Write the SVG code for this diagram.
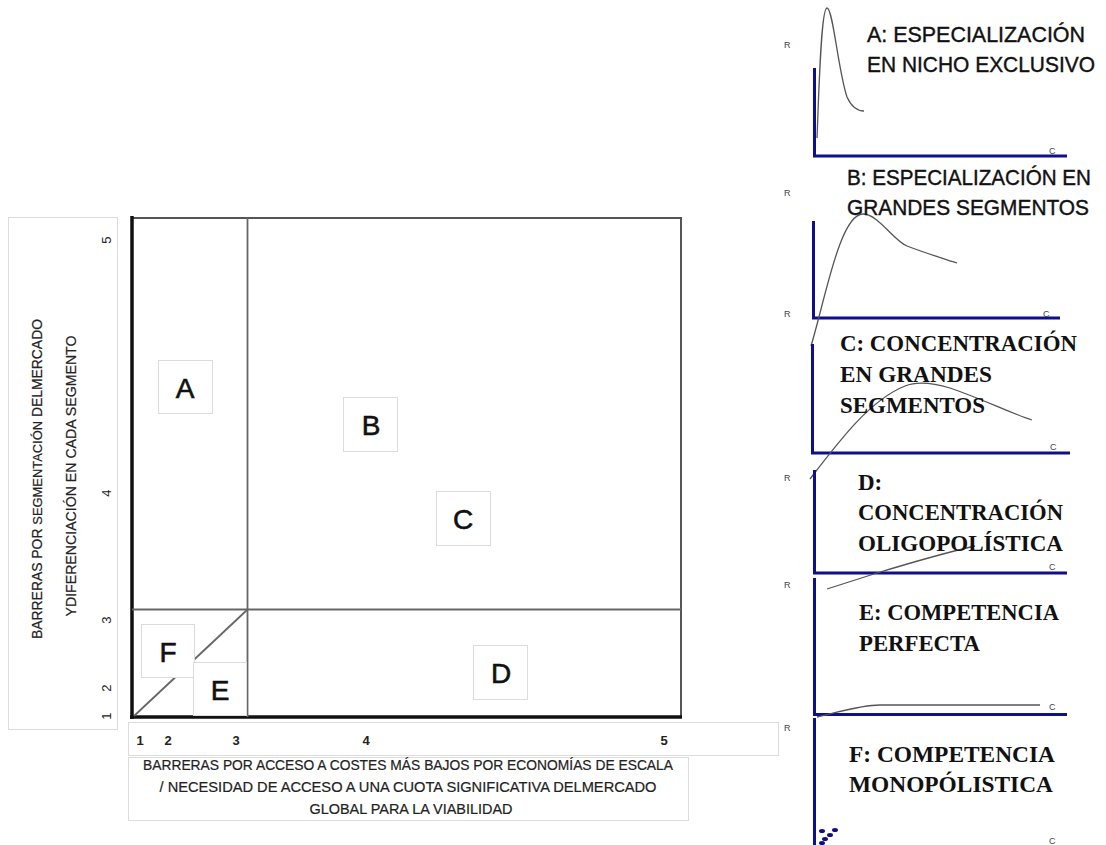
<svg xmlns="http://www.w3.org/2000/svg" width="1106" height="845" viewBox="0 0 1106 845">
<style>
.bg{fill:#fff}
.lbox{fill:#fff;stroke:#dcdcdc;stroke-width:1}
.frame{fill:none;stroke:#555;stroke-width:2}
.thick{stroke:#111;stroke-width:3.5;fill:none}
.div{stroke:#666;stroke-width:1.8;fill:none}
.big{font-family:"Liberation Sans",Arial,sans-serif;font-size:28px;fill:#111;stroke:#111;stroke-width:0.6;text-anchor:middle}
.ax{font-family:"Liberation Sans",Arial,sans-serif;font-size:14px;fill:#222;stroke:#222;stroke-width:0.2}
.num{font-family:"Liberation Sans",Arial,sans-serif;font-size:13px;fill:#222;text-anchor:middle}
.numb{font-family:"Liberation Sans",Arial,sans-serif;font-size:13px;font-weight:bold;fill:#222;text-anchor:middle}
.ts{font-family:"Liberation Sans",Arial,sans-serif;font-size:22px;fill:#111;stroke:#111;stroke-width:0.4}
.tr{font-family:"Liberation Serif","Times New Roman",serif;font-size:23px;font-weight:bold;fill:#111}
.small{font-family:"Liberation Sans",Arial,sans-serif;font-size:9px;fill:#444}
.blue{stroke:#0f0f8a;stroke-width:3;fill:none}
.curve{stroke:#555;stroke-width:1.3;fill:none}
</style>
<rect class="bg" x="0" y="0" width="1106" height="845"/>

<g id="y-axis-label">
  <rect class="lbox" x="8.5" y="217.5" width="109" height="512"/>
  <text class="ax" transform="rotate(-90 42 479)" x="42" y="479" text-anchor="middle" font-size="15" textLength="320" lengthAdjust="spacingAndGlyphs">BARRERAS POR <tspan font-size="13">SEGMENTACIÓN</tspan>  DELMERCADO</text>
  <text class="ax" transform="rotate(-90 76 476)" x="76" y="476" text-anchor="middle" font-size="15" textLength="281" lengthAdjust="spacingAndGlyphs">YDIFERENCIACIÓN EN CADA SEGMENTO</text>
  <text class="num" transform="rotate(-90 111 240)" x="111" y="240">5</text>
  <text class="num" transform="rotate(-90 111 493)" x="111" y="493">4</text>
  <text class="num" transform="rotate(-90 111 620)" x="111" y="620">3</text>
  <text class="num" transform="rotate(-90 111 688)" x="111" y="688">2</text>
  <text class="num" transform="rotate(-90 111 716)" x="111" y="716">1</text>
</g>

<g id="x-axis-numbers">
  <rect class="lbox" x="128.5" y="722.5" width="650" height="33"/>
  <text class="numb" x="140" y="745">1</text>
  <text class="numb" x="168" y="745">2</text>
  <text class="numb" x="236" y="745">3</text>
  <text class="numb" x="366" y="745">4</text>
  <text class="numb" x="664" y="745">5</text>
</g>

<g id="x-axis-label">
  <rect class="lbox" x="128.5" y="757.5" width="560" height="63"/>
  <text class="ax" x="408" y="770" text-anchor="middle" textLength="530" lengthAdjust="spacingAndGlyphs">BARRERAS POR ACCESO A COSTES MÁS BAJOS POR  ECONOMÍAS DE ESCALA</text>
  <text class="ax" x="408" y="792" text-anchor="middle" textLength="497" lengthAdjust="spacingAndGlyphs">/ NECESIDAD DE ACCESO A UNA CUOTA SIGNIFICATIVA DELMERCADO</text>
  <text class="ax" x="411" y="814" text-anchor="middle" textLength="203" lengthAdjust="spacingAndGlyphs">GLOBAL PARA LA VIABILIDAD</text>
</g>

<g id="chart-frame">
  <rect class="frame" x="132" y="218" width="549" height="499"/>
  <line class="thick" x1="132" y1="216" x2="132" y2="719"/>
  <line class="thick" x1="130" y1="717" x2="682" y2="717"/>
</g>

<g id="connectors">
  <line class="div" x1="247.5" y1="218" x2="247.5" y2="717"/>
  <line class="div" x1="132" y1="609.5" x2="681" y2="609.5"/>
  <line class="div" x1="134" y1="716" x2="247" y2="610"/>
</g>

<g id="node-A">
  <rect class="lbox" x="158.5" y="360.5" width="54" height="53"/>
  <text class="big" x="185" y="398">A</text>
</g>
<g id="node-B">
  <rect class="lbox" x="343.5" y="397.5" width="54" height="54"/>
  <text class="big" x="371" y="435">B</text>
</g>
<g id="node-C">
  <rect class="lbox" x="436.5" y="491.5" width="54" height="54"/>
  <text class="big" x="463" y="529">C</text>
</g>
<g id="node-D">
  <rect class="lbox" x="473.5" y="645.5" width="54" height="54"/>
  <text class="big" x="501" y="683">D</text>
</g>
<g id="node-F">
  <rect class="lbox" x="141.5" y="624.5" width="53" height="53"/>
  <text class="big" x="168" y="662">F</text>
</g>
<g id="node-E">
  <rect class="lbox" x="193.5" y="662.5" width="53" height="53"/>
  <text class="big" x="220" y="700">E</text>
</g>

<g id="panel-A">
  <text class="small" x="784" y="48">R</text>
  <path class="curve" d="M817,138 C819,90 821,8 827,8 C833,8 838,70 847,97 C852,108 858,111 864,111"/>
  <polyline class="blue" points="814.5,68 814.5,156 1067,156"/>
  <text class="small" x="1049" y="154">C</text>
  <text class="ts" x="867" y="42" textLength="218" lengthAdjust="spacingAndGlyphs">A: ESPECIALIZACIÓN</text>
  <text class="ts" x="867" y="72" textLength="228" lengthAdjust="spacingAndGlyphs">EN NICHO EXCLUSIVO</text>
</g>

<g id="panel-B">
  <text class="small" x="784" y="196">R</text>
  <text class="small" x="784" y="317">R</text>
  <polyline class="blue" points="813.5,221 813.5,318 1060,318"/>
  <text class="small" x="1043" y="317">C</text>
  <path class="curve" d="M811,346 C825,300 840,214 863,214 C878,214 893,240 907,246 C925,253 945,259 957,263"/>
  <text class="ts" x="847" y="185" textLength="244" lengthAdjust="spacingAndGlyphs">B: ESPECIALIZACIÓN EN</text>
  <text class="ts" x="847" y="215" textLength="242" lengthAdjust="spacingAndGlyphs">GRANDES SEGMENTOS</text>
</g>

<g id="panel-C">
  <polyline class="blue" points="812.5,344 812.5,453 1070,453"/>
  <text class="small" x="1050" y="450">C</text>
  <path class="curve" d="M810,479 C840,440 870,400 905,386 C915,382 930,382 950,388 C985,400 1010,413 1032,420"/>
  <text class="tr" x="840" y="351" textLength="237" lengthAdjust="spacingAndGlyphs">C:  CONCENTRACIÓN</text>
  <text class="tr" x="840" y="382" textLength="152" lengthAdjust="spacingAndGlyphs">EN GRANDES</text>
  <text class="tr" x="840" y="413" textLength="145" lengthAdjust="spacingAndGlyphs">SEGMENTOS</text>
</g>

<g id="panel-D">
  <text class="small" x="784" y="481">R</text>
  <polyline class="blue" points="814.5,470 814.5,573 1067,573"/>
  <text class="small" x="1049" y="570">C</text>
  <path class="curve" d="M827,589 L877,573 C910,563 940,554 975,546"/>
  <text class="tr" x="858" y="490">D:</text>
  <text class="tr" x="858" y="520" textLength="205" lengthAdjust="spacingAndGlyphs">CONCENTRACIÓN</text>
  <text class="tr" x="858" y="551" textLength="205" lengthAdjust="spacingAndGlyphs">OLIGOPOLÍSTICA</text>
</g>

<g id="panel-E">
  <text class="small" x="784" y="588">R</text>
  <polyline class="blue" points="814.5,578 814.5,714.5 1067,714.5"/>
  <path class="curve" d="M817,717 C840,712 860,705 880,705 L1040,705"/>
  <text class="small" x="1049" y="710">C</text>
  <text class="tr" x="859" y="620" textLength="200" lengthAdjust="spacingAndGlyphs">E: COMPETENCIA</text>
  <text class="tr" x="859" y="651" textLength="121" lengthAdjust="spacingAndGlyphs">PERFECTA</text>
</g>

<g id="panel-F">
  <text class="small" x="784" y="731">R</text>
  <line class="blue" x1="814.5" y1="718" x2="814.5" y2="845"/>
  <g fill="#0f0f8a">
    <ellipse cx="822" cy="831" rx="3" ry="2"/>
    <ellipse cx="835" cy="830" rx="3" ry="2"/>
    <ellipse cx="830" cy="835" rx="3" ry="2"/>
    <ellipse cx="825" cy="839" rx="3" ry="2"/>
    <ellipse cx="822" cy="843" rx="3" ry="2"/>
  </g>
  <text class="small" x="1049" y="844">C</text>
  <text class="tr" x="849" y="762" textLength="206" lengthAdjust="spacingAndGlyphs">F:  COMPETENCIA</text>
  <text class="tr" x="849" y="792" textLength="204" lengthAdjust="spacingAndGlyphs">MONOPÓLISTICA</text>
</g>
</svg>
